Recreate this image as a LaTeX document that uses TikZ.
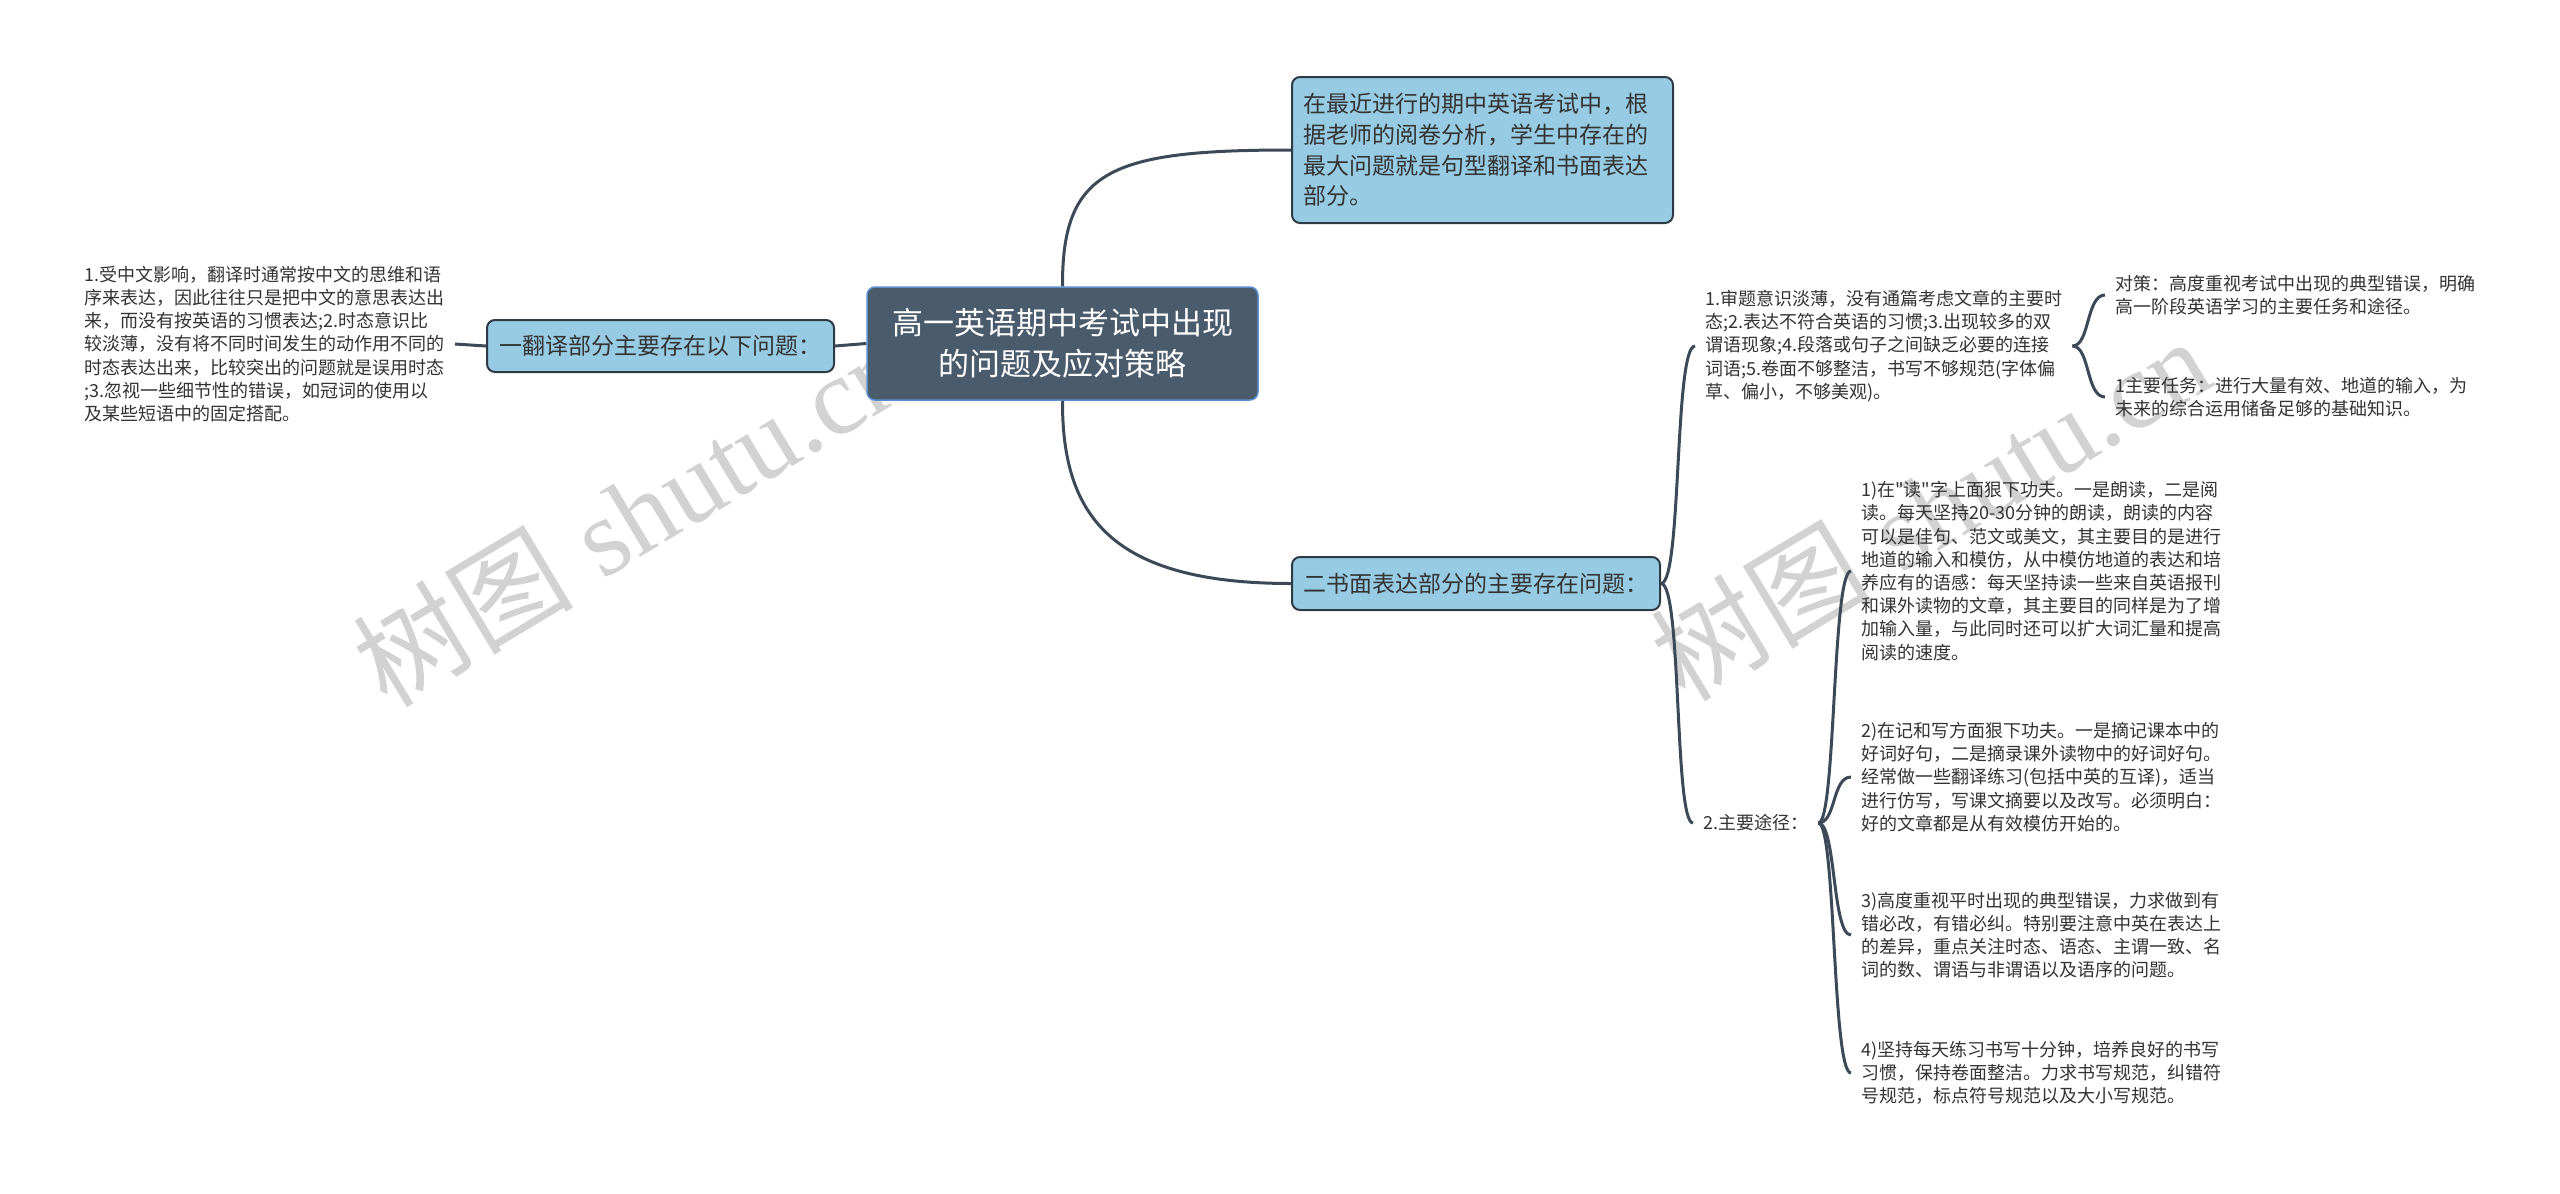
\documentclass[tikz,border=0pt]{standalone}
\usepackage{fontspec}
\newfontfamily\cjk{Noto Sans CJK SC}
\newfontfamily\wmserif{Liberation Serif}
\definecolor{linec}{HTML}{3C4A57}
\definecolor{bord}{HTML}{2E3B46}
\definecolor{lblue}{HTML}{97CBE3}
\definecolor{centfill}{HTML}{4A5B6C}
\definecolor{centbord}{HTML}{5B8FD0}
\definecolor{textc}{HTML}{333333}
\definecolor{wmc}{HTML}{D2D2D2}
\begin{document}
\begin{tikzpicture}[x=1pt,y=-1pt,
  conn/.style={draw=linec, line width=3pt},
  txt/.style={font={\cjk\fontsize{18}{23.2}\selectfont}, text=textc, align=left, inner xsep=10pt, inner ysep=0pt},
  bluebox/.style={rounded corners=8pt, draw=bord, line width=2pt, fill=lblue, font={\cjk\fontsize{23}{30.7}\selectfont}, text=textc, inner xsep=11pt, inner ysep=4pt},
  central/.style={rounded corners=8pt, draw=centbord, line width=1.5pt, fill=centfill, font={\cjk\fontsize{31}{41}\selectfont}, text=white, align=center, minimum width=391pt, minimum height=113pt},
  wm/.style={text=wmc, inner sep=0pt}
]
\useasboundingbox[fill=white] (0,0) rectangle (2560,1194);

% watermarks
\node[wm, rotate=31] (wm1) at (632,514) {{\cjk\fontsize{110}{110}\selectfont 树图}\hspace{30pt}{\wmserif\fontsize{110}{110}\selectfont shutu.cn}};
\node[wm, rotate=31] (wm2) at (1930,508) {{\cjk\fontsize{110}{110}\selectfont 树图}\hspace{30pt}{\wmserif\fontsize{110}{110}\selectfont shutu.cn}};

% nodes
\node[central] (c) at (1062.5,343.5) {高一英语期中考试中出现\\的问题及应对策略};
\node[bluebox, text width=359pt, align=left, minimum height=146pt] (t) at (1482.5,150) {在最近进行的期中英语考试中，根\\据老师的阅卷分析，学生中存在的\\最大问题就是句型翻译和书面表达\\部分。};
\node[bluebox, minimum width=368pt, minimum height=53pt] (w) at (1476,583.5) {二书面表达部分的主要存在问题：};
\node[bluebox, minimum width=347pt, minimum height=52pt] (f) at (660.5,346) {一翻译部分主要存在以下问题：};

\node[txt, anchor=east] (fl) at (455,344) {1.受中文影响，翻译时通常按中文的思维和语\\序来表达，因此往往只是把中文的意思表达出\\来，而没有按英语的习惯表达;2.时态意识比\\较淡薄，没有将不同时间发生的动作用不同的\\时态表达出来，比较突出的问题就是误用时态\\;3.忽视一些细节性的错误，如冠词的使用以\\及某些短语中的固定搭配。};

\node[txt, anchor=west] (w1) at (1695,346) {1.审题意识淡薄，没有通篇考虑文章的主要时\\态;2.表达不符合英语的习惯;3.出现较多的双\\谓语现象;4.段落或句子之间缺乏必要的连接\\词语;5.卷面不够整洁，书写不够规范(字体偏\\草、偏小，不够美观)。};
\node[txt, anchor=west] (d1) at (2105,295) {对策：高度重视考试中出现的典型错误，明确\\高一阶段英语学习的主要任务和途径。};
\node[txt, anchor=west] (d2) at (2105,397) {1主要任务：进行大量有效、地道的输入，为\\未来的综合运用储备足够的基础知识。};

\node[txt, anchor=west] (w2) at (1693,823) {2.主要途径：};
\node[txt, anchor=west] (i1) at (1851,571) {1)在"读"字上面狠下功夫。一是朗读，二是阅\\读。每天坚持20-30分钟的朗读，朗读的内容\\可以是佳句、范文或美文，其主要目的是进行\\地道的输入和模仿，从中模仿地道的表达和培\\养应有的语感：每天坚持读一些来自英语报刊\\和课外读物的文章，其主要目的同样是为了增\\加输入量，与此同时还可以扩大词汇量和提高\\阅读的速度。};
\node[txt, anchor=west] (i2) at (1851,777) {2)在记和写方面狠下功夫。一是摘记课本中的\\好词好句，二是摘录课外读物中的好词好句。\\经常做一些翻译练习(包括中英的互译)，适当\\进行仿写，写课文摘要以及改写。必须明白：\\好的文章都是从有效模仿开始的。};
\node[txt, anchor=west] (i3) at (1851,935) {3)高度重视平时出现的典型错误，力求做到有\\错必改，有错必纠。特别要注意中英在表达上\\的差异，重点关注时态、语态、主谓一致、名\\词的数、谓语与非谓语以及语序的问题。};
\node[txt, anchor=west] (i4) at (1851,1073) {4)坚持每天练习书写十分钟，培养良好的书写\\习惯，保持卷面整洁。力求书写规范，纠错符\\号规范，标点符号规范以及大小写规范。};

% connectors
\draw[conn] (c.north) .. controls (1062,170) and (1110,150) .. (t.west);
\draw[conn] (c.south) .. controls (1062,515) and (1110,583.5) .. (w.west);
\draw[conn] (c.west) -- (f.east);
\draw[conn] (f.west) -- (fl.east);

\draw[conn] (w.east) .. controls (1682,583.5) and (1674,346) .. (w1.west);
\draw[conn] (w.east) .. controls (1682,583.5) and (1674,823) .. (w2.west);

\draw[conn] (w1.east) .. controls (2090,346) and (2086,295) .. (d1.west);
\draw[conn] (w1.east) .. controls (2090,346) and (2086,397) .. (d2.west);

\draw[conn] (w2.east) .. controls (1836,823) and (1832,571) .. (i1.west);
\draw[conn] (w2.east) .. controls (1836,823) and (1832,777) .. (i2.west);
\draw[conn] (w2.east) .. controls (1836,823) and (1832,935) .. (i3.west);
\draw[conn] (w2.east) .. controls (1836,823) and (1832,1073) .. (i4.west);
\end{tikzpicture}
\end{document}
